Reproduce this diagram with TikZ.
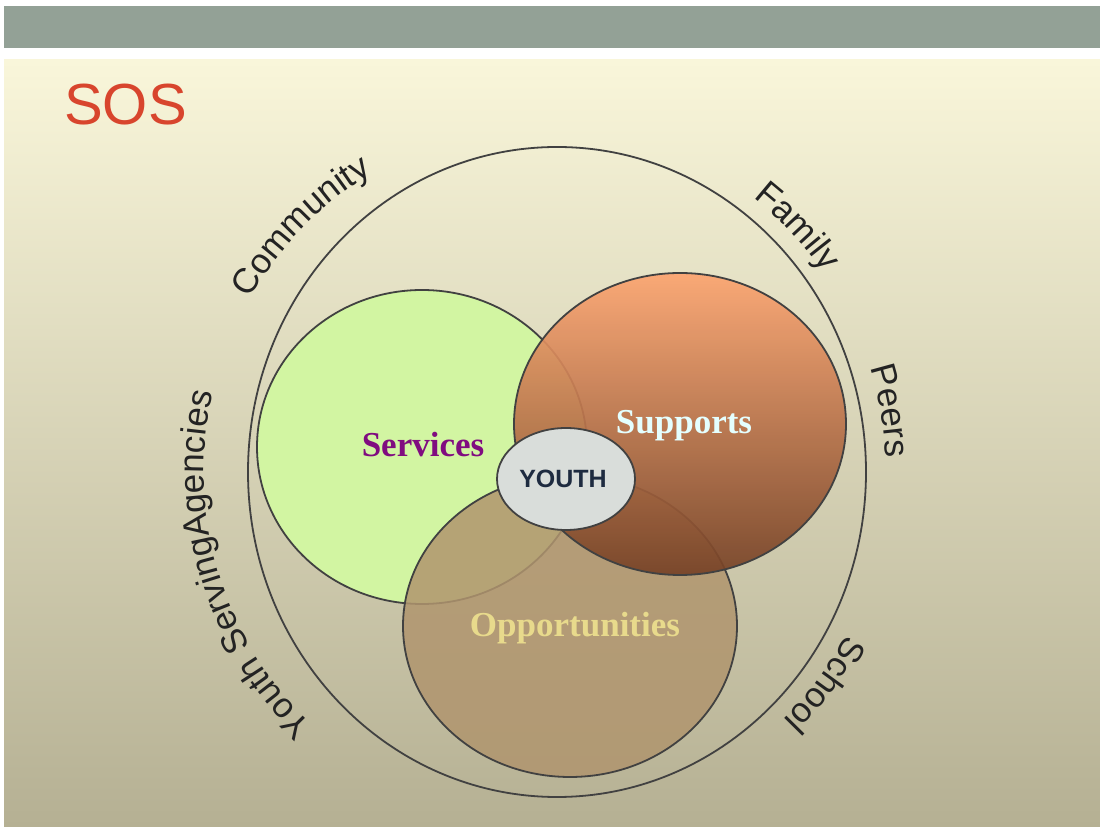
\documentclass[tikz,border=0pt]{standalone}
\usepackage{fontspec}
\setmainfont{Liberation Sans}
\newfontfamily\vennserif{Liberation Serif}
\usepackage{xcolor}
\usetikzlibrary{decorations.text}
\definecolor{barGrey}{RGB}{147,161,150}
\definecolor{panelTop}{RGB}{249,246,218}
\definecolor{panelBot}{RGB}{181,176,147}
\definecolor{sosRed}{RGB}{216,69,45}
\definecolor{ringLine}{RGB}{65,65,65}
\definecolor{ringText}{RGB}{35,35,35}
\definecolor{svcGreen}{RGB}{210,245,162}
\definecolor{oppTan}{RGB}{176,149,110}
\definecolor{supTop}{RGB}{252,164,112}
\definecolor{supMid}{RGB}{212,124,80}
\definecolor{supBot}{RGB}{118,66,38}
\definecolor{youthGrey}{RGB}{217,221,218}
\definecolor{youthInk}{RGB}{30,43,64}
\definecolor{svcPurple}{RGB}{128,12,128}
\definecolor{supText}{RGB}{228,255,255}
\definecolor{oppText}{RGB}{232,218,140}
\newcommand{\ringfont}{\fontsize{35}{35}\selectfont\color{ringText}}
\newcommand{\vennfont}{\vennserif\bfseries\fontsize{35}{35}\selectfont}

\begin{document}
\begin{tikzpicture}[x=1pt, y=1pt, line join=round,
    ring/.style={draw=ringLine, line width=1.8pt},
    blob/.style={draw=ringLine, line width=1.8pt},
    venn/.style={font=\vennfont, inner sep=0pt}]
  \useasboundingbox (0,0) rectangle (1100,827);
  \fill[barGrey] (4,779) rectangle (1100,821);
  \shade[top color=panelTop, bottom color=panelBot] (4,0) rectangle (1100,767);
  \node[anchor=base west, inner sep=0pt, text=sosRed,
    font=\fontsize{58}{58}\selectfont] (sos) at (64,702) {SOS};
  % outer ring and its labels
  \draw[ring] (557,355) ellipse[x radius=309, y radius=325];
  \foreach \a/\txt in {135/Community, 44/Family, 10/Peers, -37/School,
      197/Youth ServingAgencies}{
    \path[shift={(545,355)}, decorate, decoration={text along path,
        text align=center, text/.expanded={|\noexpand\ringfont|\txt}}]
      (\a+45:341 and 346)
      arc[start angle=\a+45, end angle=\a-45, x radius=341, y radius=346];
  }
  % the three circles
  \draw[blob, fill=svcGreen] (422,380) ellipse[x radius=165, y radius=157];
  \draw[blob, fill=oppTan, fill opacity=0.85]
    (570,201) ellipse[x radius=167, y radius=151];
  \shade[top color=supTop, middle color=supMid, bottom color=supBot, opacity=0.92]
    (680,403) ellipse[x radius=166, y radius=151];
  \draw[blob] (680,403) ellipse[x radius=166, y radius=151];
  \draw[blob, fill=youthGrey] (566,348) ellipse[x radius=69, y radius=51];
  \node[venn, text=svcPurple] (services) at (423,382) {Services};
  \node[venn, text=supText] (supports) at (684,401) {Supports};
  \node[venn, text=oppText] (opps) at (575,199) {Opportunities};
  \node[inner sep=0pt, text=youthInk, font=\bfseries\fontsize{25}{25}\selectfont]
    (youth) at (563,348) {YOUTH};
\end{tikzpicture}
\end{document}
